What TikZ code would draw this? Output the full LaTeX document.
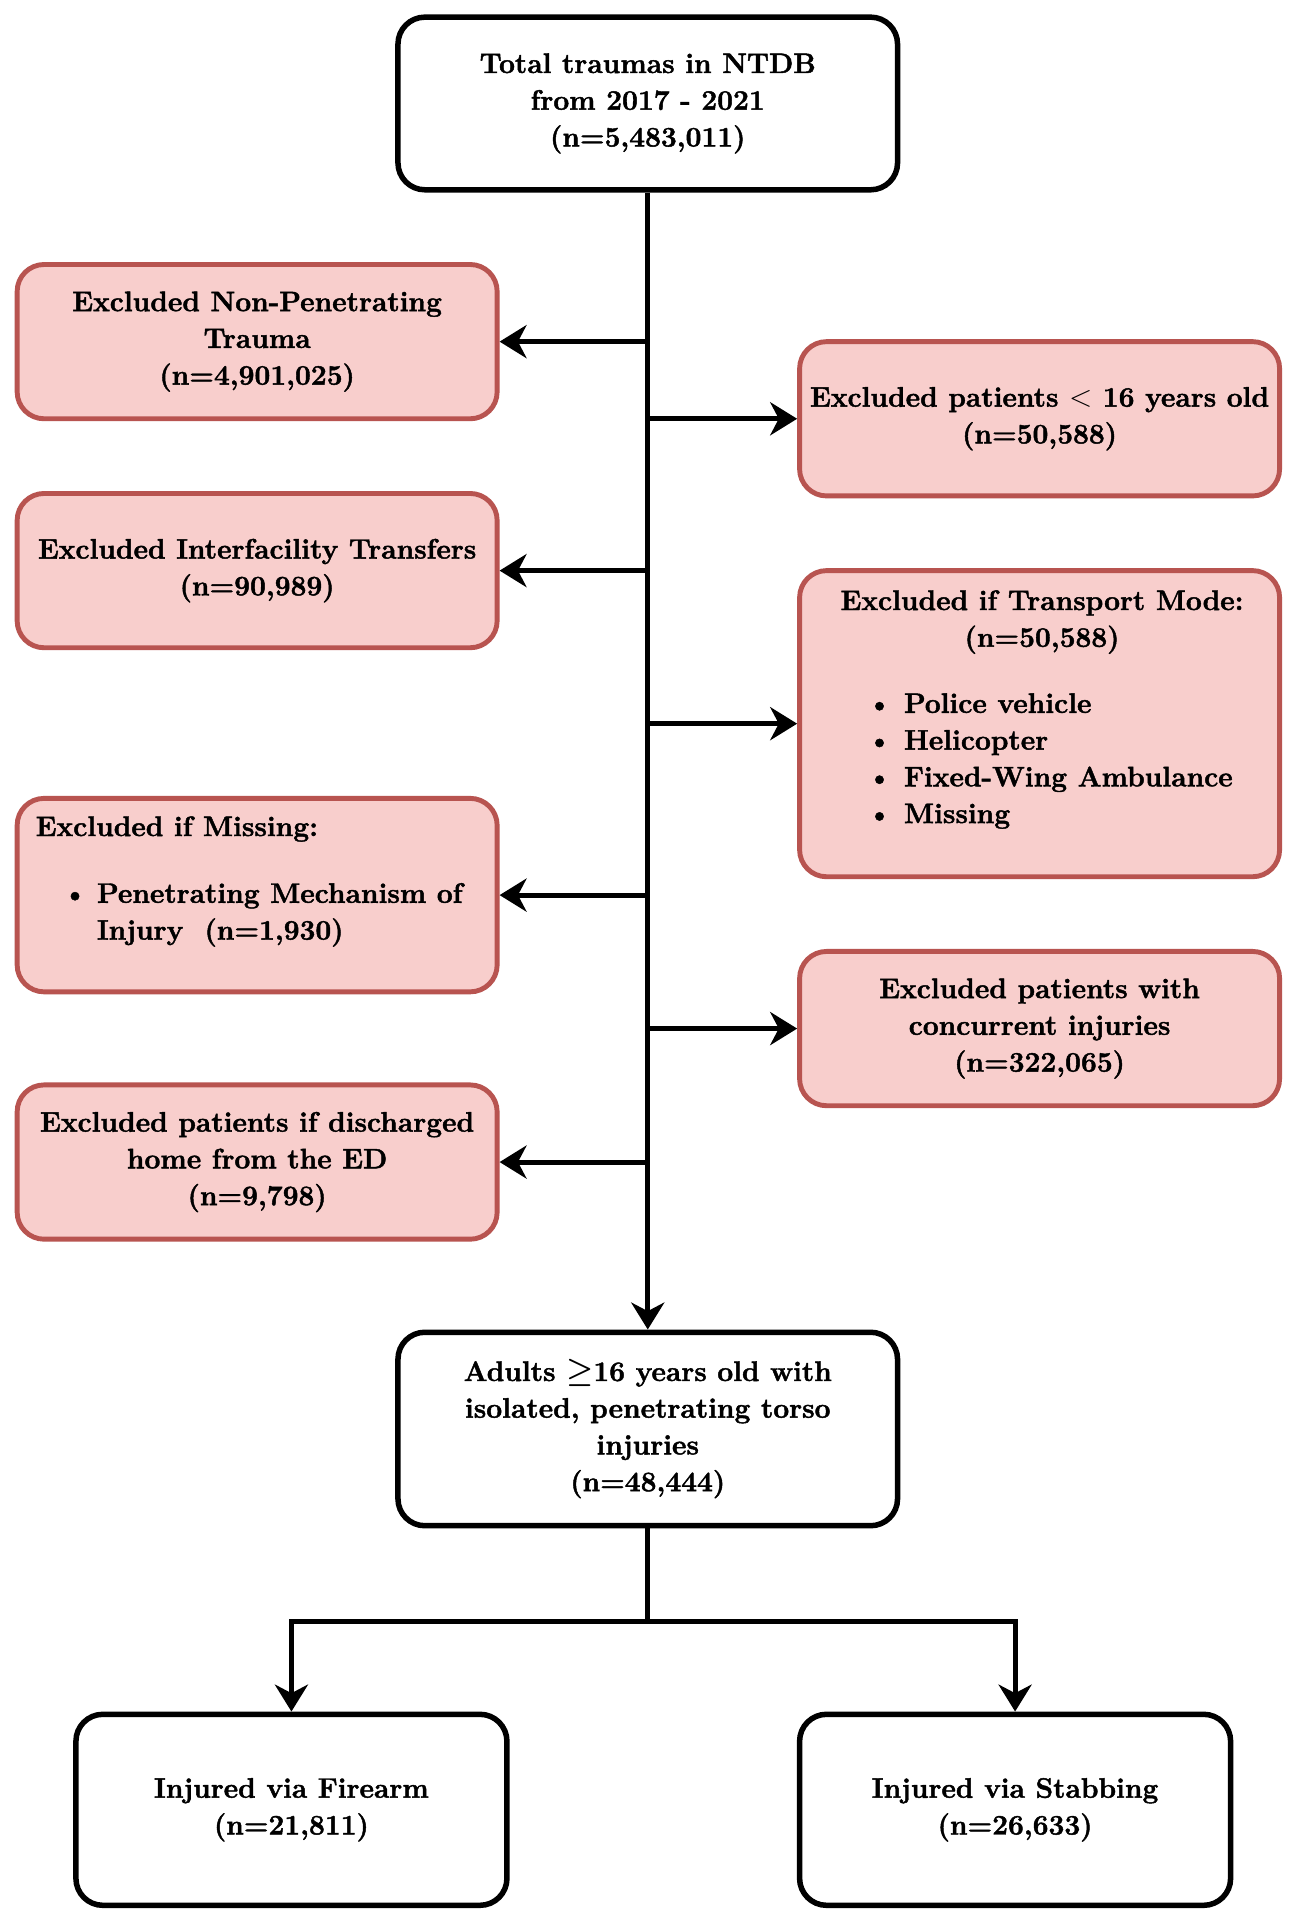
\documentclass[tikz,border=0pt]{standalone}
\usepackage{fontspec}
\setmainfont{Latin Modern Roman}[BoldFeatures={FakeBold=1.6}]
\usetikzlibrary{arrows.meta}
\definecolor{pinkfill}{HTML}{F8CECC}
\definecolor{pinkline}{HTML}{B85450}
\begin{document}
\begin{tikzpicture}[x=1pt,y=-1pt,
  txt/.style={font=\fontsize{23}{30}\selectfont\bfseries, align=center, inner sep=0pt},
  box/.style={txt, draw=black, line width=4.5pt, rounded corners=22pt, fill=white},
  exbox/.style={txt, draw=pinkline, fill=pinkfill, line width=4pt, rounded corners=22pt},
  conn/.style={line width=4pt, -{Stealth[length=22pt,width=27pt,inset=7pt]}},
  plain/.style={line width=4pt},
  ]
\useasboundingbox (0,0) rectangle (1055,1568);
\fill[white] (0,0) rectangle (1055,1568);

\node[box, minimum width=408pt, minimum height=141pt] (top) at (529,84.5)
  {Total traumas in NTDB\\from 2017 - 2021\\(n=5,483,011)};

\node[exbox, minimum width=392pt, minimum height=126pt] (l1) at (210,279)
  {Excluded Non-Penetrating\\Trauma\\(n=4,901,025)};
\node[exbox, minimum width=392pt, minimum height=126pt] (r1) at (849,342)
  {Excluded patients $<$ 16 years old\\(n=50,588)};
\node[exbox, minimum width=392pt, minimum height=126pt] (l2) at (210,466)
  {Excluded Interfacility Transfers\\(n=90,989)};
\node[exbox, minimum width=392pt, minimum height=250pt] (r2) at (849,591) {};
\node[txt] (r2title) at (851,508) {Excluded if Transport Mode:\\(n=50,588)};
\node[txt, align=left, anchor=north west] (r2list) at (708,566)
  {\textbullet\hspace{10pt}Police vehicle\\
   \textbullet\hspace{10pt}Helicopter\\
   \textbullet\hspace{10pt}Fixed-Wing Ambulance\\
   \textbullet\hspace{10pt}Missing};
\node[exbox, minimum width=392pt, minimum height=158pt] (l3) at (210,731) {};
\node[txt, anchor=west] (l3title) at (29,677) {Excluded if Missing:};
\node[txt, align=left, anchor=north west] (l3list) at (51,721)
  {\textbullet\hspace{8pt}Penetrating Mechanism of\\\hspace*{28pt}Injury\ \ (n=1,930)};
\node[exbox, minimum width=392pt, minimum height=126pt] (r3) at (849,840)
  {Excluded patients with\\concurrent injuries\\(n=322,065)};
\node[exbox, minimum width=392pt, minimum height=126pt] (l4) at (210,949)
  {Excluded patients if discharged\\home from the ED\\(n=9,798)};

\node[box, minimum width=408pt, minimum height=158pt] (adults) at (529,1167)
  {Adults {\boldmath$\geq$}16 years old with\\isolated, penetrating torso\\injuries\\(n=48,444)};

\node[box, minimum width=352pt, minimum height=156pt] (fire) at (238,1478)
  {Injured via Firearm\\(n=21,811)};
\node[box, minimum width=352pt, minimum height=156pt] (stab) at (829,1478)
  {Injured via Stabbing\\(n=26,633)};

% main trunk
\draw[conn] (top.south) -- (adults.north);
\coordinate (b1) at (529,279);
\coordinate (b2) at (529,342);
\coordinate (b3) at (529,466);
\coordinate (b4) at (529,591);
\coordinate (b5) at (529,731);
\coordinate (b6) at (529,840);
\coordinate (b7) at (529,949);
\draw[conn] (b1) -- (l1.east);
\draw[conn] (b2) -- (r1.west);
\draw[conn] (b3) -- (l2.east);
\draw[conn] (b4) -- (r2.west);
\draw[conn] (b5) -- (l3.east);
\draw[conn] (b6) -- (r3.west);
\draw[conn] (b7) -- (l4.east);

% bottom split
\draw[plain] (adults.south) -- ++(0,76) coordinate (split);
\draw[conn] (split) -| (fire.north);
\draw[conn] (split) -| (stab.north);
\end{tikzpicture}
\end{document}
